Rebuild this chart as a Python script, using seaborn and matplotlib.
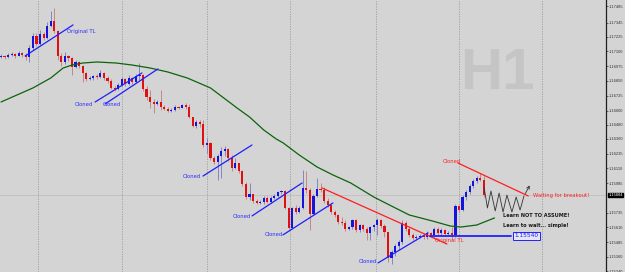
import numpy as np
import pandas as pd
import matplotlib
matplotlib.use('Agg')
import matplotlib.pyplot as plt
import seaborn as sns

# EURUSD H1 candles (open of each bar = close of the previous one)
first_open = 1.17053
close = [1.17062, 1.17053, 1.17070, 1.17079, 1.17062, 1.17087, 1.17070, 1.17053, 1.17129, 1.17231,
         1.17163, 1.17248, 1.17214, 1.17316, 1.17358, 1.17273, 1.17062, 1.17011, 1.17062, 1.17045,
         1.16968, 1.17011, 1.16977, 1.16918, 1.16867, 1.16875, 1.16892, 1.16884, 1.16918, 1.16875,
         1.16850, 1.16791, 1.16782, 1.16816, 1.16867, 1.16824, 1.16875, 1.16841, 1.16892, 1.16901,
         1.16782, 1.16714, 1.16672, 1.16655, 1.16672, 1.16630, 1.16613, 1.16596, 1.16604, 1.16630,
         1.16621, 1.16647, 1.16630, 1.16545, 1.16469, 1.16503, 1.16486, 1.16308, 1.16325, 1.16198,
         1.16164, 1.16215, 1.16257, 1.16274, 1.16198, 1.16113, 1.16155, 1.16088, 1.15977, 1.15867,
         1.15893, 1.15834, 1.15817, 1.15825, 1.15859, 1.15825, 1.15859, 1.15876, 1.15910, 1.15918,
         1.15774, 1.15605, 1.15774, 1.15740, 1.15774, 1.15944, 1.15927, 1.15723, 1.15876, 1.15935,
         1.15927, 1.15834, 1.15800, 1.15740, 1.15715, 1.15656, 1.15647, 1.15596, 1.15613, 1.15673,
         1.15588, 1.15630, 1.15596, 1.15563, 1.15613, 1.15630, 1.15673, 1.15622, 1.15571, 1.15351,
         1.15402, 1.15452, 1.15486, 1.15647, 1.15596, 1.15546, 1.15520, 1.15529, 1.15537, 1.15529,
         1.15563, 1.15546, 1.15596, 1.15563, 1.15588, 1.15554, 1.15563, 1.15546, 1.15791, 1.15757,
         1.15867, 1.15910, 1.15961, 1.16003, 1.16028, 1.16011, 1.15884]
high = [1.17079, 1.17070, 1.17087, 1.17096, 1.17087, 1.17104, 1.17096, 1.17087, 1.17155, 1.17256,
        1.17256, 1.17282, 1.17265, 1.17350, 1.17443, 1.17468, 1.17282, 1.17087, 1.17096, 1.17070,
        1.17053, 1.17028, 1.17019, 1.16985, 1.16926, 1.16892, 1.16901, 1.16909, 1.16943, 1.16926,
        1.16892, 1.16867, 1.16808, 1.16833, 1.16884, 1.16875, 1.16901, 1.16884, 1.16909, 1.17002,
        1.16909, 1.16808, 1.16774, 1.16697, 1.16689, 1.16774, 1.16647, 1.16630, 1.16621, 1.16647,
        1.16638, 1.16655, 1.16664, 1.16655, 1.16545, 1.16520, 1.16520, 1.16520, 1.16367, 1.16333,
        1.16215, 1.16232, 1.16291, 1.16299, 1.16282, 1.16223, 1.16198, 1.16155, 1.16096, 1.15994,
        1.15986, 1.15893, 1.15850, 1.15842, 1.15876, 1.15876, 1.15876, 1.15893, 1.15918, 1.15927,
        1.15927, 1.15783, 1.15783, 1.15800, 1.15791, 1.16096, 1.16088, 1.15944, 1.15893, 1.16028,
        1.15986, 1.15952, 1.15859, 1.15808, 1.15757, 1.15723, 1.15698, 1.15673, 1.15622, 1.15681,
        1.15681, 1.15639, 1.15639, 1.15613, 1.15622, 1.15639, 1.15690, 1.15681, 1.15639, 1.15571,
        1.15419, 1.15469, 1.15503, 1.15673, 1.15664, 1.15613, 1.15563, 1.15546, 1.15554, 1.15563,
        1.15579, 1.15571, 1.15613, 1.15613, 1.15605, 1.15596, 1.15579, 1.15613, 1.15808, 1.15800,
        1.15884, 1.15927, 1.15977, 1.16020, 1.16045, 1.16071, 1.16045]
low = [1.17045, 1.17036, 1.17045, 1.17062, 1.17045, 1.17062, 1.17053, 1.17028, 1.17011, 1.17112,
       1.17146, 1.17155, 1.17197, 1.17206, 1.17307, 1.17256, 1.17028, 1.16977, 1.16994, 1.17019,
       1.16901, 1.16960, 1.16960, 1.16841, 1.16850, 1.16858, 1.16858, 1.16867, 1.16875, 1.16858,
       1.16833, 1.16782, 1.16765, 1.16774, 1.16808, 1.16808, 1.16816, 1.16824, 1.16833, 1.16858,
       1.16765, 1.16689, 1.16621, 1.16579, 1.16647, 1.16604, 1.16604, 1.16587, 1.16587, 1.16596,
       1.16613, 1.16621, 1.16613, 1.16537, 1.16460, 1.16452, 1.16460, 1.16291, 1.16240, 1.16181,
       1.16147, 1.16011, 1.16028, 1.16215, 1.16172, 1.16088, 1.16105, 1.16071, 1.15961, 1.15850,
       1.15842, 1.15817, 1.15808, 1.15808, 1.15808, 1.15817, 1.15817, 1.15850, 1.15867, 1.15893,
       1.15766, 1.15596, 1.15596, 1.15723, 1.15732, 1.15766, 1.15901, 1.15588, 1.15715, 1.15867,
       1.15910, 1.15817, 1.15783, 1.15723, 1.15698, 1.15639, 1.15630, 1.15579, 1.15588, 1.15596,
       1.15571, 1.15571, 1.15579, 1.15503, 1.15503, 1.15579, 1.15546, 1.15605, 1.15529, 1.15317,
       1.15300, 1.15368, 1.15419, 1.15469, 1.15579, 1.15529, 1.15503, 1.15503, 1.15520, 1.15512,
       1.15512, 1.15529, 1.15520, 1.15546, 1.15546, 1.15537, 1.15546, 1.15503, 1.15529, 1.15740,
       1.15749, 1.15842, 1.15893, 1.15944, 1.15986, 1.16003, 1.15867]

# moving average (bar index, price)
ma_idx = [0, 9, 14, 17.5, 20, 23, 27, 32.5, 37, 42, 47, 52.5, 59, 66.5, 70, 74, 77.5, 79.5, 84,
          89, 93.5, 98.5, 105, 110.5, 115, 121.5, 126.5, 129.5, 134, 139]
ma_val = [1.16672, 1.16791, 1.16875, 1.16960, 1.16985, 1.17002, 1.17011, 1.17002, 1.16985, 1.16960,
          1.16926, 1.16875, 1.16791, 1.16621, 1.16545, 1.16435, 1.16359, 1.16325, 1.16223, 1.16122,
          1.16054, 1.15986, 1.15867, 1.15783, 1.15715, 1.15664, 1.15622, 1.15613, 1.15630, 1.15690]

tick_vals = [1.17485, 1.17345, 1.17225, 1.17100, 1.16975, 1.16850, 1.16725, 1.16600, 1.16480,
             1.16360, 1.16235, 1.16110, 1.15985, 1.15735, 1.15610, 1.15485, 1.15360, 1.15240]
tick_labels = ['%.5f' % v for v in tick_vals]
day_sep = [10.5, 34, 58, 81.5, 105.5, 129, 152.5]

# hand drawn objects: (x0, p0, x1, p1)
blue_lines = [(6.8, 1.17062, 20.3, 1.17325),
              (26.5, 1.16672, 39.7, 1.16918),
              (29.3, 1.16655, 44.2, 1.16952),
              (56.9, 1.16045, 70.7, 1.16308),
              (70.7, 1.15707, 84.8, 1.15986),
              (79.4, 1.15546, 93.5, 1.15817),
              (106.2, 1.15309, 120.3, 1.15563)]
red_lines = [(128.7, 1.16155, 148.5, 1.15876),
             (90.4, 1.15944, 125.6, 1.15469)]
blue_labels = [(18.6, 1.17265, 'Original TL'), (20.8, 1.16655, 'Cloned'), (28.7, 1.16647, 'Cloned'),
               (51.3, 1.16045, 'Cloned'), (65.4, 1.15698, 'Cloned'), (74.4, 1.15546, 'Cloned'),
               (100.8, 1.15317, 'Cloned')]
red_labels = [(124.5, 1.16172, 'Cloned'), (122.3, 1.15495, 'Original TL'),
              (149.9, 1.15884, 'Waiting for breakout!')]
level = 1.15540
zig_x = [136.1, 137.0, 138.0, 139.2, 140.3, 141.4, 142.5, 143.9, 145.1, 146.2, 147.3]
zig_y = [1.15944, 1.15774, 1.15918, 1.15749, 1.15901, 1.15740, 1.15884, 1.15740, 1.15867, 1.15757, 1.15876]

sns.set_theme(style='white')
plt.rcParams['font.family'] = ['DejaVu Sans']
bg = '#d4d4d4'

df = pd.DataFrame({'close': close, 'high': high, 'low': low})
df['open'] = [first_open] + close[:-1]
df['i'] = np.arange(len(df))
df['up'] = df['close'] >= df['open']

fig = plt.figure(figsize=(6.25, 2.72), dpi=100)
fig.patch.set_facecolor(bg)
ax = fig.add_axes([0, 0, 606 / 625, 1])
ax.set_facecolor(bg)

for gx in day_sep:
    ax.axvline(gx, color='#9c9c9c', lw=0.6, ls=(0, (1.5, 1.5)), zorder=1)
ax.axhline(close[-1], color='#c2c2c2', lw=0.7, zorder=1)

ax.text(139.7, 1.16913, 'H1', fontsize=42, fontweight='bold', family='Liberation Sans',
        color='#c5c5c5', ha='center', va='center', zorder=0.5)

for is_up, col, wcol in [(True, '#1414dc', '#7a7abe'), (False, '#e01010', '#c47a7a')]:
    d = df[df['up'] == is_up]
    ax.vlines(d['i'], d['low'], d['high'], color=wcol, lw=0.6, zorder=2)
    body = (d['close'] - d['open']).abs().clip(lower=0.00008)
    ax.bar(d['i'], body, bottom=d[['open', 'close']].min(axis=1), width=0.6,
           color=col, lw=0, zorder=3)

sns.lineplot(x=ma_idx, y=ma_val, color='#0b640b', lw=0.9, ax=ax, zorder=4, legend=False)

for x0, p0, x1, p1 in blue_lines:
    ax.plot([x0, x1], [p0, p1], color='#1e1eff', lw=0.9, zorder=5)
for x0, p0, x1, p1 in red_lines:
    ax.plot([x0, x1], [p0, p1], color='#ff1e1e', lw=0.9, zorder=5)
for x, p, s in blue_labels:
    ax.text(x, p, s, color='#2c2cff', fontsize=3.8, va='center', ha='left', zorder=6)
for x, p, s in red_labels:
    ax.text(x, p, s, color='#ff2020', fontsize=3.8, va='center', ha='left', zorder=6)

ax.plot([120.8, 143.7], [level, level], color='#2020ff', lw=1.3, zorder=5)
ax.text(147.9, level, '%.5f' % level, color='#1a1aff', fontsize=4.2, ha='center', va='center',
        zorder=6, bbox=dict(boxstyle='square,pad=0.25', fc='#e6e6f4', ec='#2020ff', lw=0.7))

ax.plot(zig_x, zig_y, color='#333333', lw=0.6, zorder=5)
ax.annotate('', xy=(149.3, 1.15986), xytext=(zig_x[-1], zig_y[-1]),
            arrowprops=dict(arrowstyle='->', color='#333333', lw=0.6, mutation_scale=5), zorder=5)

ax.text(141.4, 1.15707, 'Learn NOT TO ASSUME!', fontsize=3.6, fontweight='bold', color='#1a1a1a',
        va='center', ha='left', zorder=6)
ax.text(141.4, 1.15630, 'Learn to wait... simple!', fontsize=3.6, fontweight='bold', color='#1a1a1a',
        va='center', ha='left', zorder=6)

ax.set_xlim(-0.28, 170.4)
ax.set_ylim(1.15232, 1.17536)
ax.set_xticks([])
ax.yaxis.tick_right()
ax.set_yticks(tick_vals)
ax.set_yticklabels(tick_labels, fontsize=2.9, color='#333333', family='Liberation Sans')
ax.tick_params(axis='y', direction='out', length=1.5, width=0.5, pad=0.6, colors='#333333')
for s in ['left', 'top', 'bottom']:
    ax.spines[s].set_visible(False)
ax.spines['right'].set_color('#202020')
ax.spines['right'].set_linewidth(0.9)

ax.annotate('%.5f' % close[-1], xy=(1, close[-1]), xycoords=('axes fraction', 'data'),
            xytext=(1.6, 0), textcoords='offset points', fontsize=2.9, color='white',
            family='Liberation Sans', va='center', ha='left', annotation_clip=False,
            bbox=dict(boxstyle='square,pad=0.1', fc='black', ec='black'))

fig.savefig('out.png', dpi=100, facecolor=bg)
